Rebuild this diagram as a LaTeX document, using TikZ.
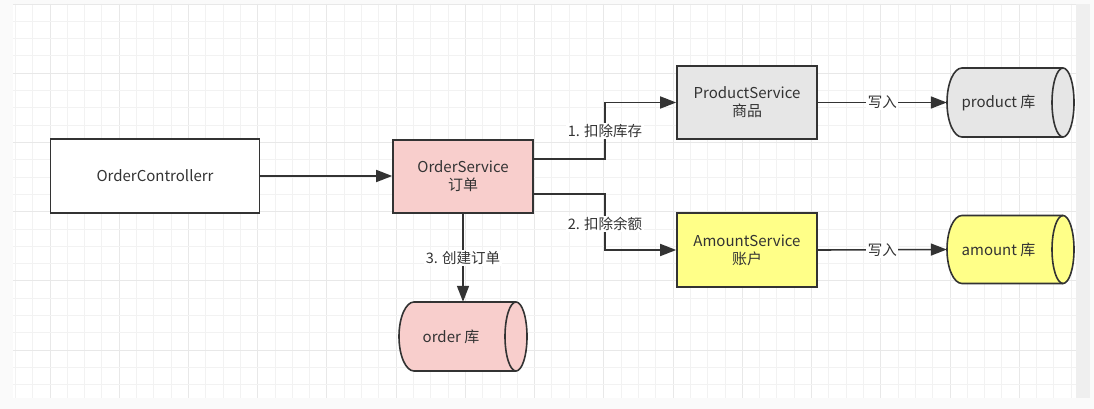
\documentclass[tikz,border=0pt]{standalone}
\usepackage{fontspec}
\setmainfont{Noto Sans CJK SC}
\usetikzlibrary{arrows.meta,calc}
\definecolor{ink}{HTML}{333333}
\definecolor{pagebg}{HTML}{FAFAFA}
\definecolor{stripbg}{HTML}{EFEFEF}
\definecolor{gridminor}{HTML}{F2F2F2}
\definecolor{gridmajor}{HTML}{E8E8E8}
\definecolor{pinkfill}{HTML}{F8CECC}
\definecolor{grayfill}{HTML}{E6E6E6}
\definecolor{yellowfill}{HTML}{FFFF88}
\tikzset{
  box/.style={draw=ink, line width=1.6pt, rectangle, inner sep=0pt, align=center,
    text=ink, font=\fontsize{15pt}{18pt}\selectfont},
  cylline/.style={draw=ink, line width=1.6pt},
  cyltext/.style={rectangle, inner sep=0pt, minimum width=127pt, minimum height=69pt,
    label={[text=ink, font=\fontsize{15pt}{18pt}\selectfont, xshift=-12pt]center:#1}},
  conn/.style={draw=ink, line width=1.6pt, -{Triangle[length=16pt,width=12pt]}},
  lbl/.style={fill=white, inner sep=1.5pt, text=ink, font=\fontsize{14.5pt}{17pt}\selectfont},
  gminor/.style={draw=gridminor, line width=1pt},
  gmajor/.style={draw=gridmajor, line width=1pt}
}
% #1 centre coordinate, #2 fill, #3 half width, #4 half height
\newcommand{\mycyl}[4]{%
  \begin{scope}[shift={(#1)}, x=1pt, y=1pt]
    \filldraw[cylline, fill=#2] (-#3+15,#4) -- (#3-11,#4)
      arc[start angle=90, end angle=-90, x radius=11pt, y radius=#4pt]
      -- (-#3+15,-#4)
      arc[start angle=270, end angle=90, x radius=15pt, y radius=#4pt] -- cycle;
    \draw[cylline] (#3-11,#4) arc[start angle=90, end angle=270, x radius=11pt, y radius=#4pt];
  \end{scope}}
\begin{document}
\begin{tikzpicture}[x=1pt,y=-1pt]
\useasboundingbox (0,0) rectangle (1094,409);
\fill[pagebg] (0,0) rectangle (1094,409);
\fill[stripbg] (1076,4) rectangle (1090,398);
\fill[white] (13,4) rectangle (1076,398);
\begin{scope}
\clip (13,4) rectangle (1076,398);
\foreach \i in {-2,...,59} {
  \pgfmathsetmacro\xx{50+17.3077*\i}
  \pgfmathtruncatemacro\mm{mod(\i+100,4)}
  \ifnum\mm=0 \draw[gmajor] (\xx,4) -- (\xx,398); \else \draw[gminor] (\xx,4) -- (\xx,398); \fi
}
\foreach \j in {-4,...,19} {
  \pgfmathsetmacro\yy{73.3+17.3077*\j}
  \pgfmathtruncatemacro\mm{mod(\j+100,4)}
  \ifnum\mm=0 \draw[gmajor] (13,\yy) -- (1076,\yy); \else \draw[gminor] (13,\yy) -- (1076,\yy); \fi
}
\end{scope}

\node[box, fill=white, minimum width=209pt, minimum height=74pt] (oc) at (155,176) {OrderControllerr};
\node[box, fill=pinkfill, minimum width=140pt, minimum height=73pt] (os) at (463,176.5) {OrderService\\订单};
\node[box, fill=grayfill, minimum width=140pt, minimum height=73pt] (ps) at (747,102.5) {ProductService\\商品};
\node[box, fill=yellowfill, minimum width=140pt, minimum height=74pt] (as) at (747,250) {AmountService\\账户};

\coordinate (pdbc) at (1010.5,102.5);
\coordinate (adbc) at (1010.5,249.5);
\coordinate (odbc) at (463,336.5);
\mycyl{pdbc}{grayfill}{63.5}{34.5}
\mycyl{adbc}{yellowfill}{63.5}{34}
\mycyl{odbc}{pinkfill}{64}{34.5}
\node[cyltext={product 库}] (pdb) at (pdbc) {};
\node[cyltext={amount 库}] (adb) at (adbc) {};
\node[cyltext={order 库}, minimum width=128pt] (odb) at (odbc) {};

\coordinate (j1) at (605,131);
\coordinate (j2) at (605,224);
\coordinate (s1) at ($(os.east)+(0,-17.5)$);
\coordinate (s2) at ($(os.east)+(0,17.5)$);

\draw[conn] (oc.east) -- (oc.east -| os.west);
\draw[conn] (s1) -| (j1) node[lbl] {1. 扣除库存} |- (ps.west);
\draw[conn] (s2) -| (j2) node[lbl] {2. 扣除余额} |- (as.west);
\draw[conn] (os.south) -- node[lbl, pos=0.5] {3. 创建订单} (odb.north);
\draw[conn] (ps.east) -- node[lbl] {写入} (pdb.west);
\draw[conn] (as.east) -- node[lbl] {写入} (adb.west);
\end{tikzpicture}
\end{document}
